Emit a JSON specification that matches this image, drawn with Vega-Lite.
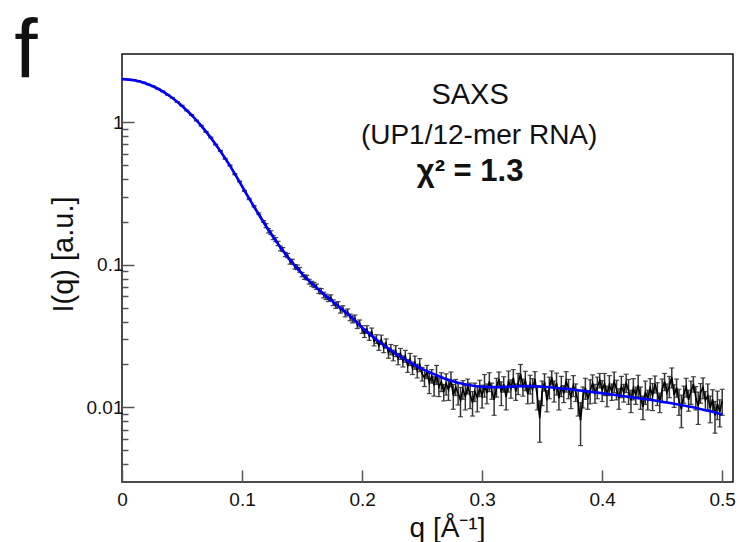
{
  "$schema": "https://vega.github.io/schema/vega-lite/v6.json",
  "width": 611,
  "height": 428,
  "autosize": "none",
  "padding": {"left": 122, "top": 54, "right": 7, "bottom": 60},
  "background": "white",
  "config": {
    "view": {"stroke": "#111", "strokeWidth": 1.5},
    "font": "Liberation Sans"
  },
  "datasets": {
    "obs": [
      {"q":0.010,"i":1.97,"e":0.015},{"q":0.014,"i":1.931,"e":0.014},{"q":0.018,"i":1.894,"e":0.013},{"q":0.022,"i":1.836,"e":0.012},
      {"q":0.026,"i":1.782,"e":0.012},{"q":0.030,"i":1.709,"e":0.011},{"q":0.034,"i":1.641,"e":0.011},{"q":0.038,"i":1.554,"e":0.010},
      {"q":0.042,"i":1.478,"e":0.010},{"q":0.046,"i":1.383,"e":0.009},{"q":0.050,"i":1.302,"e":0.009},{"q":0.054,"i":1.204,"e":0.008},
      {"q":0.058,"i":1.121,"e":0.008},{"q":0.062,"i":1.025,"e":0.007},{"q":0.066,"i":0.944,"e":0.007},{"q":0.070,"i":0.853,"e":0.006},
      {"q":0.074,"i":0.779,"e":0.006},{"q":0.078,"i":0.695,"e":0.005},{"q":0.082,"i":0.628,"e":0.005},{"q":0.086,"i":0.553,"e":0.004},
      {"q":0.090,"i":0.496,"e":0.004},{"q":0.094,"i":0.431,"e":0.004},{"q":0.098,"i":0.383,"e":0.003},{"q":0.102,"i":0.329,"e":0.003},
      {"q":0.106,"i":0.289,"e":0.003},{"q":0.110,"i":0.257,"e":0.003},{"q":0.114,"i":0.228,"e":0.003},{"q":0.118,"i":0.201,"e":0.003},
      {"q":0.120,"i":0.188,"e":0.006},{"q":0.122,"i":0.173,"e":0.006},{"q":0.124,"i":0.168,"e":0.005},{"q":0.126,"i":0.155,"e":0.005},
      {"q":0.128,"i":0.150,"e":0.005},{"q":0.130,"i":0.141,"e":0.005},{"q":0.132,"i":0.130,"e":0.005},{"q":0.134,"i":0.128,"e":0.004},
      {"q":0.136,"i":0.118,"e":0.004},{"q":0.138,"i":0.116,"e":0.004},{"q":0.140,"i":0.105,"e":0.004},{"q":0.142,"i":0.1052,"e":0.004},
      {"q":0.144,"i":0.0968,"e":0.0035},{"q":0.146,"i":0.0961,"e":0.0035},{"q":0.148,"i":0.0922,"e":0.0035},{"q":0.150,"i":0.0853,"e":0.003},
      {"q":0.152,"i":0.0819,"e":0.003},{"q":0.154,"i":0.0813,"e":0.003},{"q":0.156,"i":0.0761,"e":0.003},{"q":0.158,"i":0.0736,"e":0.003},
      {"q":0.160,"i":0.0722,"e":0.003},{"q":0.162,"i":0.0702,"e":0.003},{"q":0.164,"i":0.0657,"e":0.0028},{"q":0.166,"i":0.0652,"e":0.0028},
      {"q":0.168,"i":0.0613,"e":0.0028},{"q":0.170,"i":0.0596,"e":0.0026},{"q":0.172,"i":0.0578,"e":0.0026},{"q":0.174,"i":0.0589,"e":0.0026},
      {"q":0.176,"i":0.0542,"e":0.0025},{"q":0.178,"i":0.0519,"e":0.0025},{"q":0.180,"i":0.0526,"e":0.0025},{"q":0.182,"i":0.0482,"e":0.0024},
      {"q":0.184,"i":0.0492,"e":0.0024},{"q":0.186,"i":0.0455,"e":0.0024},{"q":0.188,"i":0.0466,"e":0.0024},{"q":0.190,"i":0.0428,"e":0.0023},
      {"q":0.192,"i":0.0414,"e":0.0023},{"q":0.194,"i":0.0421,"e":0.0023},{"q":0.196,"i":0.0379,"e":0.0022},{"q":0.198,"i":0.0388,"e":0.0022},
      {"q":0.200,"i":0.0352,"e":0.0022},{"q":0.202,"i":0.0331,"e":0.0022},{"q":0.204,"i":0.0352,"e":0.0022},{"q":0.206,"i":0.0316,"e":0.0021},
      {"q":0.208,"i":0.0338,"e":0.0022},{"q":0.210,"i":0.0291,"e":0.0021},{"q":0.212,"i":0.0302,"e":0.0021},{"q":0.214,"i":0.0271,"e":0.0020},
      {"q":0.216,"i":0.0299,"e":0.0022},{"q":0.218,"i":0.0262,"e":0.0020},{"q":0.220,"i":0.0281,"e":0.0021},{"q":0.222,"i":0.0241,"e":0.0020},
      {"q":0.224,"i":0.0255,"e":0.0021},{"q":0.226,"i":0.0232,"e":0.0020},{"q":0.228,"i":0.0249,"e":0.0022},{"q":0.230,"i":0.0219,"e":0.0020},
      {"q":0.232,"i":0.0238,"e":0.0021},{"q":0.234,"i":0.0211,"e":0.0019},{"q":0.236,"i":0.0229,"e":0.0022},{"q":0.238,"i":0.0196,"e":0.0020},
      {"q":0.240,"i":0.0218,"e":0.0021},{"q":0.242,"i":0.0189,"e":0.0019},{"q":0.244,"i":0.0207,"e":0.0022},{"q":0.246,"i":0.0181,"e":0.0020},
      {"q":0.248,"i":0.0199,"e":0.0021},{"q":0.250,"i":0.0172,"e":0.0019},
      {"q":0.252,"i":0.0161,"e":0.0021},{"q":0.254,"i":0.0178,"e":0.0019},{"q":0.256,"i":0.0149,"e":0.0024},{"q":0.258,"i":0.0166,"e":0.0018},
      {"q":0.260,"i":0.0142,"e":0.0022},{"q":0.262,"i":0.0171,"e":0.0026},{"q":0.264,"i":0.0139,"e":0.0020},{"q":0.266,"i":0.0152,"e":0.0023},
      {"q":0.268,"i":0.0128,"e":0.0017},{"q":0.270,"i":0.0147,"e":0.0025},{"q":0.272,"i":0.0133,"e":0.0021},{"q":0.274,"i":0.0158,"e":0.0019},
      {"q":0.276,"i":0.0121,"e":0.0024},{"q":0.278,"i":0.0139,"e":0.0018},{"q":0.280,"i":0.0126,"e":0.0022},{"q":0.282,"i":0.0112,"e":0.0026},
      {"q":0.284,"i":0.0134,"e":0.0020},{"q":0.286,"i":0.0119,"e":0.0023},{"q":0.288,"i":0.0141,"e":0.0017},{"q":0.290,"i":0.0123,"e":0.0025},
      {"q":0.292,"i":0.0108,"e":0.0021},{"q":0.294,"i":0.0129,"e":0.0019},{"q":0.296,"i":0.0117,"e":0.0024},{"q":0.298,"i":0.0137,"e":0.0018},
      {"q":0.300,"i":0.0121,"e":0.0022},{"q":0.302,"i":0.0144,"e":0.0026},{"q":0.304,"i":0.0126,"e":0.0020},{"q":0.306,"i":0.0152,"e":0.0023},
      {"q":0.308,"i":0.0131,"e":0.0017},{"q":0.310,"i":0.0113,"e":0.0025},{"q":0.312,"i":0.0139,"e":0.0021},{"q":0.314,"i":0.0158,"e":0.0019},
      {"q":0.316,"i":0.0127,"e":0.0024},{"q":0.318,"i":0.0146,"e":0.0018},{"q":0.320,"i":0.0118,"e":0.0022},{"q":0.322,"i":0.0154,"e":0.0026},
      {"q":0.324,"i":0.0136,"e":0.0020},{"q":0.326,"i":0.0161,"e":0.0023},{"q":0.328,"i":0.0129,"e":0.0017},{"q":0.330,"i":0.0148,"e":0.0025},
      {"q":0.332,"i":0.0172,"e":0.0028},{"q":0.334,"i":0.0139,"e":0.0019},{"q":0.336,"i":0.0155,"e":0.0024},{"q":0.338,"i":0.0124,"e":0.0018},
      {"q":0.340,"i":0.0146,"e":0.0022},{"q":0.342,"i":0.0133,"e":0.0026},{"q":0.344,"i":0.0158,"e":0.0020},{"q":0.346,"i":0.0119,"e":0.0023},
      {"q":0.348,"i":0.0084,"e":0.0027},{"q":0.350,"i":0.0128,"e":0.0025},{"q":0.352,"i":0.0151,"e":0.0021},{"q":0.354,"i":0.0112,"e":0.0019},
      {"q":0.356,"i":0.0139,"e":0.0024},{"q":0.358,"i":0.0162,"e":0.0018},{"q":0.360,"i":0.0131,"e":0.0022},{"q":0.362,"i":0.0148,"e":0.0026},
      {"q":0.364,"i":0.0116,"e":0.0020},{"q":0.366,"i":0.0142,"e":0.0023},{"q":0.368,"i":0.0125,"e":0.0017},{"q":0.370,"i":0.0153,"e":0.0025},
      {"q":0.372,"i":0.0136,"e":0.0021},{"q":0.374,"i":0.0117,"e":0.0019},{"q":0.376,"i":0.0143,"e":0.0024},{"q":0.378,"i":0.0128,"e":0.0018},
      {"q":0.380,"i":0.0109,"e":0.0022},{"q":0.382,"i":0.0081,"e":0.0027},{"q":0.384,"i":0.0119,"e":0.0020},{"q":0.386,"i":0.0137,"e":0.0023},
      {"q":0.388,"i":0.0114,"e":0.0017},{"q":0.390,"i":0.0131,"e":0.0025},{"q":0.392,"i":0.0148,"e":0.0021},{"q":0.394,"i":0.0126,"e":0.0019},
      {"q":0.396,"i":0.0139,"e":0.0024},{"q":0.398,"i":0.0155,"e":0.0018},{"q":0.400,"i":0.0132,"e":0.0022},{"q":0.402,"i":0.0147,"e":0.0026},
      {"q":0.404,"i":0.0121,"e":0.0020},{"q":0.406,"i":0.0144,"e":0.0023},{"q":0.408,"i":0.0129,"e":0.0017},{"q":0.410,"i":0.0152,"e":0.0025},
      {"q":0.412,"i":0.0134,"e":0.0021},{"q":0.414,"i":0.0116,"e":0.0019},{"q":0.416,"i":0.0141,"e":0.0024},{"q":0.418,"i":0.0127,"e":0.0018},
      {"q":0.420,"i":0.0149,"e":0.0022},{"q":0.422,"i":0.0131,"e":0.0026},{"q":0.424,"i":0.0112,"e":0.0020},{"q":0.426,"i":0.0136,"e":0.0023},
      {"q":0.428,"i":0.0122,"e":0.0017},{"q":0.430,"i":0.0143,"e":0.0025},{"q":0.432,"i":0.0118,"e":0.0021},{"q":0.434,"i":0.0101,"e":0.0019},
      {"q":0.436,"i":0.0129,"e":0.0024},{"q":0.438,"i":0.0114,"e":0.0018},{"q":0.440,"i":0.0137,"e":0.0022},{"q":0.442,"i":0.0121,"e":0.0026},
      {"q":0.444,"i":0.0146,"e":0.0020},{"q":0.446,"i":0.0126,"e":0.0023},{"q":0.448,"i":0.0109,"e":0.0017},{"q":0.450,"i":0.0133,"e":0.0025},
      {"q":0.452,"i":0.0152,"e":0.0021},{"q":0.454,"i":0.0127,"e":0.0019},{"q":0.456,"i":0.0141,"e":0.0024},{"q":0.458,"i":0.0163,"e":0.0026},
      {"q":0.460,"i":0.0122,"e":0.0022},{"q":0.462,"i":0.0138,"e":0.0020},{"q":0.464,"i":0.0111,"e":0.0023},{"q":0.466,"i":0.0097,"e":0.0025},
      {"q":0.468,"i":0.0124,"e":0.0017},{"q":0.470,"i":0.0139,"e":0.0021},{"q":0.472,"i":0.0113,"e":0.0019},{"q":0.474,"i":0.0129,"e":0.0024},
      {"q":0.476,"i":0.0146,"e":0.0018},{"q":0.478,"i":0.0118,"e":0.0022},{"q":0.480,"i":0.0102,"e":0.0026},{"q":0.482,"i":0.0127,"e":0.0020},
      {"q":0.484,"i":0.0138,"e":0.0023},{"q":0.486,"i":0.0112,"e":0.0017},{"q":0.488,"i":0.0121,"e":0.0025},{"q":0.490,"i":0.0099,"e":0.0021},
      {"q":0.492,"i":0.0114,"e":0.0019},{"q":0.494,"i":0.0088,"e":0.0022},{"q":0.496,"i":0.0106,"e":0.0024},{"q":0.498,"i":0.0093,"e":0.0020},
      {"q":0.500,"i":0.0111,"e":0.0023}
    ],
    "fit": [
      {"q":0.00,"i":2.0},{"q":0.01,"i":1.966},{"q":0.02,"i":1.866},{"q":0.03,"i":1.712},{"q":0.04,"i":1.516},
      {"q":0.05,"i":1.298},{"q":0.06,"i":1.073},{"q":0.07,"i":0.857},{"q":0.08,"i":0.661},{"q":0.09,"i":0.493},
      {"q":0.10,"i":0.355},{"q":0.11,"i":0.255},{"q":0.12,"i":0.186},{"q":0.13,"i":0.140},{"q":0.14,"i":0.108},
      {"q":0.15,"i":0.0863},{"q":0.16,"i":0.0714},{"q":0.17,"i":0.0603},{"q":0.18,"i":0.0513},{"q":0.19,"i":0.0437},
      {"q":0.20,"i":0.0363},{"q":0.21,"i":0.0308},{"q":0.22,"i":0.0266},{"q":0.23,"i":0.0232},{"q":0.24,"i":0.0207},
      {"q":0.25,"i":0.0186},{"q":0.26,"i":0.0171},{"q":0.27,"i":0.0158},{"q":0.28,"i":0.01486},{"q":0.29,"i":0.01429},
      {"q":0.30,"i":0.01396},{"q":0.31,"i":0.01387},{"q":0.32,"i":0.01393},{"q":0.33,"i":0.01406},{"q":0.34,"i":0.01409},
      {"q":0.35,"i":0.01396},{"q":0.36,"i":0.01374},{"q":0.37,"i":0.01349},{"q":0.38,"i":0.01318},{"q":0.39,"i":0.01288},
      {"q":0.40,"i":0.01256},{"q":0.41,"i":0.01225},{"q":0.42,"i":0.01194},{"q":0.43,"i":0.01161},{"q":0.44,"i":0.0113},
      {"q":0.45,"i":0.01096},{"q":0.46,"i":0.01062},{"q":0.47,"i":0.01023},{"q":0.48,"i":0.00984},{"q":0.49,"i":0.0094},
      {"q":0.50,"i":0.00891}
    ],
    "one": [{}]
  },
  "layer": [
    {
      "data": {"name": "obs"},
      "mark": {"type": "errorbar", "ticks": {"size": 5, "color": "#000", "thickness": 1.2}, "rule": {"color": "#333", "strokeWidth": 1.5}},
      "encoding": {
        "x": {
          "field": "q", "type": "quantitative",
          "scale": {"domain": [0, 0.509], "nice": false, "zero": false},
          "axis": {
            "values": [0, 0.1, 0.2, 0.3, 0.4, 0.5],
            "format": "~g",
            "grid": false, "domain": false,
            "tickSize": -12, "tickColor": "#555", "tickWidth": 1.5,
            "labelFlush": false, "labelFontSize": 19, "labelColor": "#111",
            "labelFont": "Liberation Sans", "labelPadding": 20,
            "title": "q [Å⁻¹]", "titleFontSize": 28, "titleFontWeight": "normal",
            "titleFont": "Liberation Sans", "titleColor": "#111",
            "titleX": 325, "titleY": 54, "titleBaseline": "alphabetic", "titleAlign": "center"
          }
        },
        "y": {
          "field": "i", "type": "quantitative",
          "scale": {"type": "log", "domain": [0.003, 3], "nice": false},
          "axis": {
            "values": [0.004,0.005,0.006,0.007,0.008,0.009,0.01,0.02,0.03,0.04,0.05,0.06,0.07,0.08,0.09,0.1,0.2,0.3,0.4,0.5,0.6,0.7,0.8,0.9,1],
            "labelExpr": "datum.value == 1 ? '1' : datum.value == 0.1 ? '0.1' : datum.value == 0.01 ? '0.01' : ''",
            "tickSize": {"condition": {"test": "datum.value == 1 || datum.value == 0.1 || datum.value == 0.01", "value": -12}, "value": -6},
            "grid": false, "domain": false,
            "tickColor": "#555", "tickWidth": 1.5,
            "labelFlush": false, "labelOverlap": false, "labelFontSize": 19, "labelColor": "#111",
            "labelFont": "Liberation Sans", "labelPadding": 11,
            "title": "I(q) [a.u.]", "titleFontSize": 29, "titleFontWeight": "normal",
            "titleFont": "Liberation Sans", "titleColor": "#111",
            "titleX": -50, "titleY": 200, "titleBaseline": "alphabetic", "titleAlign": "center", "titleAngle": 270
          }
        },
        "yError": {"field": "e"}
      }
    },
    {
      "data": {"name": "obs"},
      "mark": {"type": "line", "color": "#000", "strokeWidth": 1.6},
      "encoding": {
        "x": {"field": "q", "type": "quantitative"},
        "y": {"field": "i", "type": "quantitative"}
      }
    },
    {
      "data": {"name": "fit"},
      "mark": {"type": "line", "color": "#0000ff", "strokeWidth": 2.6, "interpolate": "monotone"},
      "encoding": {
        "x": {"field": "q", "type": "quantitative"},
        "y": {"field": "i", "type": "quantitative"}
      }
    },
    {
      "data": {"name": "one"},
      "mark": {"type": "text", "text": "SAXS", "fontSize": 29, "font": "Liberation Sans", "color": "#111", "align": "center", "baseline": "alphabetic"},
      "encoding": {"x": {"datum": 0.29}, "y": {"datum": 1.337}}
    },
    {
      "data": {"name": "one"},
      "mark": {"type": "text", "text": "(UP1/12-mer RNA)", "fontSize": 28, "font": "Liberation Sans", "color": "#111", "align": "center", "baseline": "alphabetic"},
      "encoding": {"x": {"datum": 0.2975}, "y": {"datum": 0.701}}
    },
    {
      "data": {"name": "one"},
      "mark": {"type": "text", "text": "χ² = 1.3", "fontSize": 31, "fontWeight": "bold", "font": "Liberation Sans", "color": "#111", "align": "center", "baseline": "alphabetic"},
      "encoding": {"x": {"datum": 0.29}, "y": {"datum": 0.385}}
    },
    {
      "data": {"name": "one"},
      "mark": {"type": "text", "text": "f", "fontSize": 84, "font": "Liberation Sans", "color": "#111", "align": "center", "baseline": "alphabetic"},
      "encoding": {"x": {"datum": -0.08}, "y": {"datum": 2.05}}
    }
  ]
}
